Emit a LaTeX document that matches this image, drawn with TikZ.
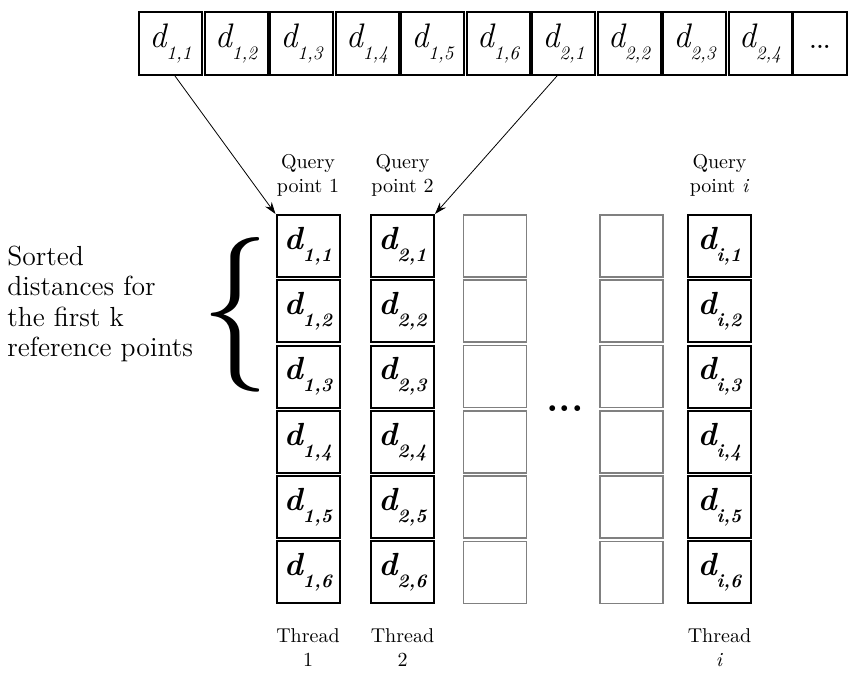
\documentclass[tikz,border=0pt]{standalone}
\usetikzlibrary{arrows.meta}
\newcommand{\toplab}[1]{{\fontsize{17}{17}\selectfont\itshape d}\raisebox{-6pt}{\fontsize{9.5}{9.5}\selectfont\itshape #1}}
\newcommand{\collab}[1]{{\fontsize{16}{16}\selectfont\bfseries\itshape d}\raisebox{-6pt}{\fontsize{9.5}{9.5}\selectfont\bfseries\itshape #1}}
\begin{document}
\begin{tikzpicture}[x=0.5pt,y=-0.5pt,
  tbox/.style={draw, line width=1pt, minimum width=31.5pt, minimum height=31.5pt, inner sep=0pt},
  cbox/.style={draw, line width=1pt, minimum width=31.5pt, minimum height=31pt, inner sep=0pt},
  gbox/.style={draw=black!50, line width=0.9pt, minimum width=31.5pt, minimum height=31pt, inner sep=0pt},
  lab/.style={align=center, font=\fontsize{10}{12}\selectfont, inner sep=0pt},
  arr/.style={-{Stealth[length=6pt,width=4pt]}, line width=0.4pt}]
\useasboundingbox (0,0) rectangle (848,673);
% top row
\foreach \k/\s in {0/{1,1},1/{1,2},2/{1,3},3/{1,4},4/{1,5},5/{1,6},6/{2,1},7/{2,2},8/{2,3},9/{2,4}}{
  \node[tbox] (t\k) at (170.5+65.5*\k,43.5) {\toplab{\s}};
}
\node[tbox, minimum width=27pt] (t10) at (820,43.5) {};
\node[inner sep=0pt, anchor=base] (tdots) at (820,49) {\fontsize{11}{11}\selectfont\bfseries ...};
% columns
\foreach \r in {1,...,6}{
  \node[cbox] (a\r) at (308,{246+65.3*(\r-1)}) {\collab{1,\r}};
  \node[cbox] (b\r) at (402.5,{246+65.3*(\r-1)}) {\collab{2,\r}};
  \node[gbox] (g\r) at (495,{246+65.3*(\r-1)}) {};
  \node[gbox] (h\r) at (631.5,{246+65.3*(\r-1)}) {};
  \node[cbox] (e\r) at (719.5,{246+65.3*(\r-1)}) {\collab{\textit{i},\r}};
}
\node[inner sep=0pt, anchor=base] (mdots) at (565,412) {\fontsize{20}{20}\selectfont\bfseries ...};
% labels
\node[lab] (q1) at (308,175.5) {Query\\point 1};
\node[lab] (q2) at (402.5,175.5) {Query\\point 2};
\node[lab] (qi) at (719.5,175.5) {Query\\point \textit{i}};
\node[lab] (th1) at (308,648) {Thread\\1};
\node[lab] (th2) at (402.5,648) {Thread\\2};
\node[lab] (thi) at (719.5,648) {Thread\\\textit{i}};
% brace and text
\node[inner sep=0pt] (brace) at (235,315) {\resizebox{34pt}{58pt}{\{}};
\node[anchor=west, align=left, inner sep=0pt, font=\fontsize{13.8}{15.3}\selectfont] (txt) at (7,304) {Sorted\\distances for\\the first k\\reference points};
% arrows
\draw[arr] ([xshift=2.25pt]t0.south) -- (a1.north west);
\draw[arr] ([xshift=-3.25pt]t6.south) -- (b1.north east);
\end{tikzpicture}
\end{document}
